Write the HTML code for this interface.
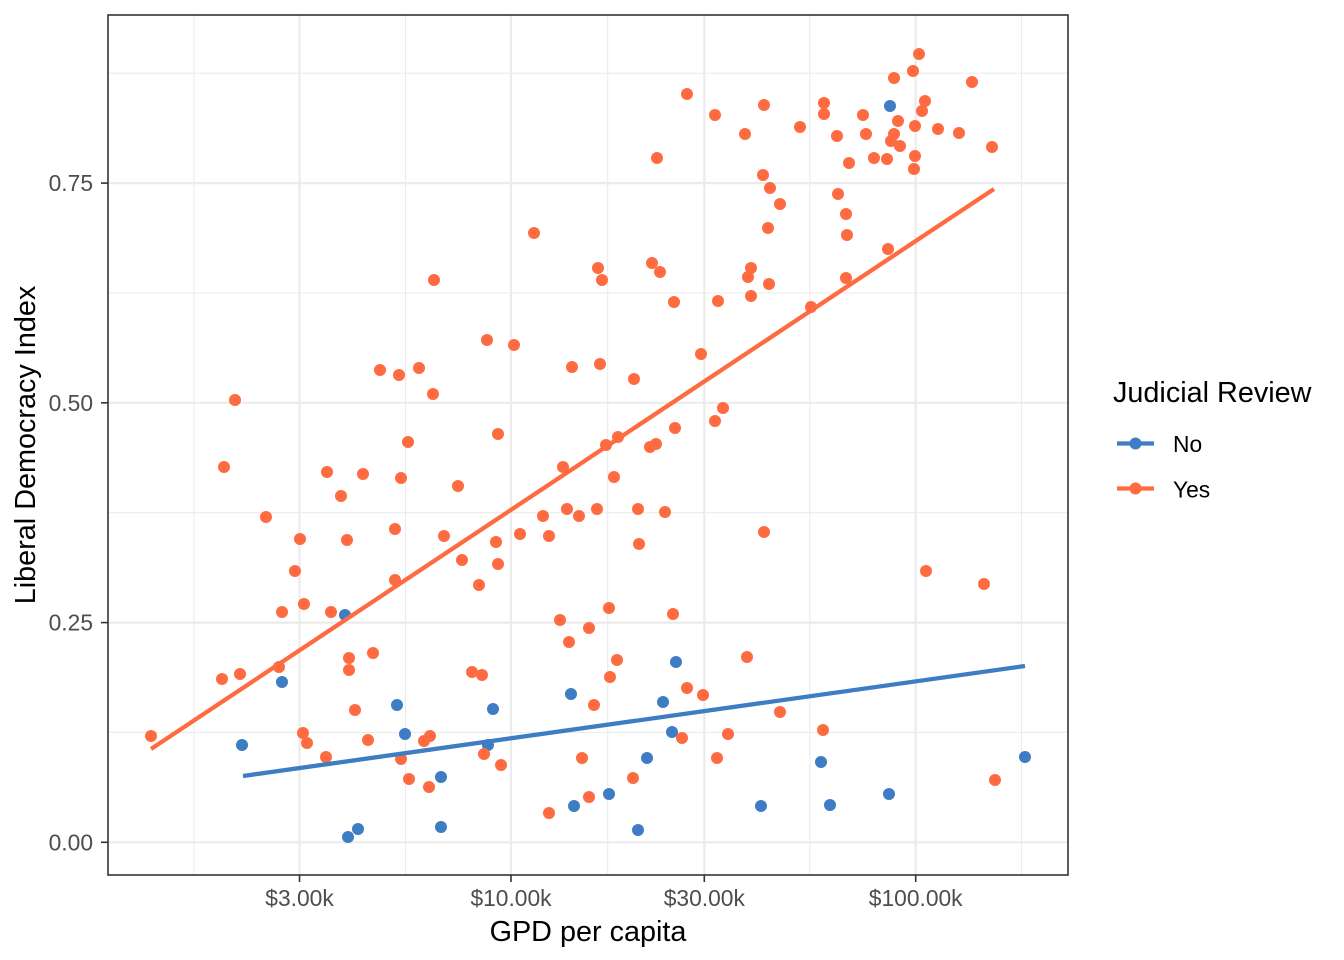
<!DOCTYPE html>
<html>
<head>
<meta charset="utf-8">
<style>
html,body{margin:0;padding:0;background:#fff;}
svg{display:block;}
text{font-family:"Liberation Sans",Arial,Helvetica,sans-serif;}
</style>
</head>
<body>
<svg width="1344" height="960" viewBox="0 0 1344 960" xmlns="http://www.w3.org/2000/svg">
<rect x="0" y="0" width="1344" height="960" fill="#ffffff"/>
<g stroke="#EBEBEB" stroke-width="1.1">
<line x1="108" x2="1068" y1="732.4" y2="732.4"/>
<line x1="108" x2="1068" y1="512.7" y2="512.7"/>
<line x1="108" x2="1068" y1="293" y2="293"/>
<line x1="108" x2="1068" y1="73.2" y2="73.2"/>
<line x1="194" x2="194" y1="15" y2="875"/>
<line x1="405.5" x2="405.5" y1="15" y2="875"/>
<line x1="607.7" x2="607.7" y1="15" y2="875"/>
<line x1="809.8" x2="809.8" y1="15" y2="875"/>
<line x1="1021.5" x2="1021.5" y1="15" y2="875"/>
</g>
<g stroke="#EBEBEB" stroke-width="2.2">
<line x1="108" x2="1068" y1="842.3" y2="842.3"/>
<line x1="108" x2="1068" y1="622.6" y2="622.6"/>
<line x1="108" x2="1068" y1="402.8" y2="402.8"/>
<line x1="108" x2="1068" y1="183.1" y2="183.1"/>
<line x1="299.5" x2="299.5" y1="15" y2="875"/>
<line x1="511" x2="511" y1="15" y2="875"/>
<line x1="704.3" x2="704.3" y1="15" y2="875"/>
<line x1="915.7" x2="915.7" y1="15" y2="875"/>
</g>
<g fill="#3E7CC4">
<circle cx="345" cy="615" r="6"/>
<circle cx="282" cy="682" r="6"/>
<circle cx="397" cy="705" r="6"/>
<circle cx="242" cy="745" r="6"/>
<circle cx="405" cy="734" r="6"/>
<circle cx="348" cy="837" r="6"/>
<circle cx="358" cy="829" r="6"/>
<circle cx="441" cy="777" r="6"/>
<circle cx="441" cy="827" r="6"/>
<circle cx="676" cy="662" r="6"/>
<circle cx="571" cy="694" r="6"/>
<circle cx="493" cy="709" r="6"/>
<circle cx="663" cy="702" r="6"/>
<circle cx="672" cy="732" r="6"/>
<circle cx="488" cy="745" r="6"/>
<circle cx="647" cy="758" r="6"/>
<circle cx="609" cy="794" r="6"/>
<circle cx="574" cy="806" r="6"/>
<circle cx="638" cy="830" r="6"/>
<circle cx="821" cy="762" r="6"/>
<circle cx="1025" cy="757" r="6"/>
<circle cx="761" cy="806" r="6"/>
<circle cx="830" cy="805" r="6"/>
<circle cx="889" cy="794" r="6"/>
<circle cx="890" cy="106" r="6"/>
</g>
<g fill="#FF6B40">
<circle cx="434" cy="280" r="6"/>
<circle cx="380" cy="370" r="6"/>
<circle cx="399" cy="375" r="6"/>
<circle cx="419" cy="368" r="6"/>
<circle cx="433" cy="394" r="6"/>
<circle cx="235" cy="400" r="6"/>
<circle cx="408" cy="442" r="6"/>
<circle cx="224" cy="467" r="6"/>
<circle cx="327" cy="472" r="6"/>
<circle cx="363" cy="474" r="6"/>
<circle cx="401" cy="478" r="6"/>
<circle cx="341" cy="496" r="6"/>
<circle cx="266" cy="517" r="6"/>
<circle cx="300" cy="539" r="6"/>
<circle cx="347" cy="540" r="6"/>
<circle cx="395" cy="529" r="6"/>
<circle cx="295" cy="571" r="6"/>
<circle cx="395" cy="580" r="6"/>
<circle cx="282" cy="612" r="6"/>
<circle cx="304" cy="604" r="6"/>
<circle cx="331" cy="612" r="6"/>
<circle cx="279" cy="667" r="6"/>
<circle cx="222" cy="679" r="6"/>
<circle cx="240" cy="674" r="6"/>
<circle cx="349" cy="658" r="6"/>
<circle cx="349" cy="670" r="6"/>
<circle cx="373" cy="653" r="6"/>
<circle cx="355" cy="710" r="6"/>
<circle cx="151" cy="736" r="6"/>
<circle cx="303" cy="733" r="6"/>
<circle cx="307" cy="743" r="6"/>
<circle cx="326" cy="757" r="6"/>
<circle cx="368" cy="740" r="6"/>
<circle cx="401" cy="759" r="6"/>
<circle cx="424" cy="741" r="6"/>
<circle cx="430" cy="736" r="6"/>
<circle cx="409" cy="779" r="6"/>
<circle cx="429" cy="787" r="6"/>
<circle cx="598" cy="268" r="6"/>
<circle cx="602" cy="280" r="6"/>
<circle cx="652" cy="263" r="6"/>
<circle cx="660" cy="272" r="6"/>
<circle cx="674" cy="302" r="6"/>
<circle cx="718" cy="301" r="6"/>
<circle cx="487" cy="340" r="6"/>
<circle cx="514" cy="345" r="6"/>
<circle cx="572" cy="367" r="6"/>
<circle cx="600" cy="364" r="6"/>
<circle cx="634" cy="379" r="6"/>
<circle cx="701" cy="354" r="6"/>
<circle cx="498" cy="434" r="6"/>
<circle cx="723" cy="408" r="6"/>
<circle cx="715" cy="421" r="6"/>
<circle cx="675" cy="428" r="6"/>
<circle cx="618" cy="437" r="6"/>
<circle cx="606" cy="445" r="6"/>
<circle cx="650" cy="447" r="6"/>
<circle cx="656" cy="444" r="6"/>
<circle cx="563" cy="467" r="6"/>
<circle cx="458" cy="486" r="6"/>
<circle cx="614" cy="477" r="6"/>
<circle cx="567" cy="509" r="6"/>
<circle cx="579" cy="516" r="6"/>
<circle cx="597" cy="509" r="6"/>
<circle cx="543" cy="516" r="6"/>
<circle cx="638" cy="509" r="6"/>
<circle cx="665" cy="512" r="6"/>
<circle cx="444" cy="536" r="6"/>
<circle cx="496" cy="542" r="6"/>
<circle cx="520" cy="534" r="6"/>
<circle cx="549" cy="536" r="6"/>
<circle cx="639" cy="544" r="6"/>
<circle cx="462" cy="560" r="6"/>
<circle cx="498" cy="564" r="6"/>
<circle cx="479" cy="585" r="6"/>
<circle cx="609" cy="608" r="6"/>
<circle cx="673" cy="614" r="6"/>
<circle cx="560" cy="620" r="6"/>
<circle cx="589" cy="628" r="6"/>
<circle cx="569" cy="642" r="6"/>
<circle cx="617" cy="660" r="6"/>
<circle cx="747" cy="657" r="6"/>
<circle cx="472" cy="672" r="6"/>
<circle cx="482" cy="675" r="6"/>
<circle cx="610" cy="677" r="6"/>
<circle cx="687" cy="688" r="6"/>
<circle cx="703" cy="695" r="6"/>
<circle cx="594" cy="705" r="6"/>
<circle cx="484" cy="754" r="6"/>
<circle cx="501" cy="765" r="6"/>
<circle cx="582" cy="758" r="6"/>
<circle cx="682" cy="738" r="6"/>
<circle cx="728" cy="734" r="6"/>
<circle cx="717" cy="758" r="6"/>
<circle cx="633" cy="778" r="6"/>
<circle cx="589" cy="797" r="6"/>
<circle cx="549" cy="813" r="6"/>
<circle cx="751" cy="268" r="6"/>
<circle cx="748" cy="277" r="6"/>
<circle cx="751" cy="296" r="6"/>
<circle cx="769" cy="284" r="6"/>
<circle cx="811" cy="307" r="6"/>
<circle cx="846" cy="278" r="6"/>
<circle cx="888" cy="249" r="6"/>
<circle cx="764" cy="532" r="6"/>
<circle cx="926" cy="571" r="6"/>
<circle cx="984" cy="584" r="6"/>
<circle cx="780" cy="712" r="6"/>
<circle cx="823" cy="730" r="6"/>
<circle cx="995" cy="780" r="6"/>
<circle cx="534" cy="233" r="6"/>
<circle cx="657" cy="158" r="6"/>
<circle cx="687" cy="94" r="6"/>
<circle cx="715" cy="115" r="6"/>
<circle cx="745" cy="134" r="6"/>
<circle cx="764" cy="105" r="6"/>
<circle cx="800" cy="127" r="6"/>
<circle cx="763" cy="175" r="6"/>
<circle cx="770" cy="188" r="6"/>
<circle cx="780" cy="204" r="6"/>
<circle cx="768" cy="228" r="6"/>
<circle cx="919" cy="54" r="6"/>
<circle cx="913" cy="71" r="6"/>
<circle cx="894" cy="78" r="6"/>
<circle cx="972" cy="82" r="6"/>
<circle cx="824" cy="103" r="6"/>
<circle cx="824" cy="114" r="6"/>
<circle cx="863" cy="115" r="6"/>
<circle cx="925" cy="101" r="6"/>
<circle cx="922" cy="111" r="6"/>
<circle cx="898" cy="121" r="6"/>
<circle cx="837" cy="136" r="6"/>
<circle cx="866" cy="134" r="6"/>
<circle cx="894" cy="134" r="6"/>
<circle cx="891" cy="141" r="6"/>
<circle cx="900" cy="146" r="6"/>
<circle cx="915" cy="126" r="6"/>
<circle cx="938" cy="129" r="6"/>
<circle cx="959" cy="133" r="6"/>
<circle cx="992" cy="147" r="6"/>
<circle cx="849" cy="163" r="6"/>
<circle cx="874" cy="158" r="6"/>
<circle cx="887" cy="159" r="6"/>
<circle cx="915" cy="156" r="6"/>
<circle cx="914" cy="169" r="6"/>
<circle cx="838" cy="194" r="6"/>
<circle cx="846" cy="214" r="6"/>
<circle cx="847" cy="235" r="6"/>
</g>
<line x1="243" y1="776" x2="1025" y2="666" stroke="#3E7CC4" stroke-width="4.3"/>
<line x1="151" y1="749" x2="994" y2="189" stroke="#FF6B40" stroke-width="4.3"/>
<rect x="108" y="15" width="960" height="860" fill="none" stroke="#333333" stroke-width="1.6"/>
<g stroke="#333333" stroke-width="1.6">
<line x1="101" x2="108" y1="842.3" y2="842.3"/>
<line x1="101" x2="108" y1="622.6" y2="622.6"/>
<line x1="101" x2="108" y1="402.8" y2="402.8"/>
<line x1="101" x2="108" y1="183.1" y2="183.1"/>
<line x1="299.5" x2="299.5" y1="875" y2="882"/>
<line x1="511" x2="511" y1="875" y2="882"/>
<line x1="704.3" x2="704.3" y1="875" y2="882"/>
<line x1="915.7" x2="915.7" y1="875" y2="882"/>
</g>
<g fill="#4D4D4D" font-size="22.8" text-anchor="end">
<text x="93" y="850.4">0.00</text>
<text x="93" y="630.7">0.25</text>
<text x="93" y="410.9">0.50</text>
<text x="93" y="191.2">0.75</text>
</g>
<g fill="#4D4D4D" font-size="22.8" text-anchor="middle">
<text x="299.5" y="906">$3.00k</text>
<text x="511" y="906">$10.00k</text>
<text x="704.3" y="906">$30.00k</text>
<text x="915.7" y="906">$100.00k</text>
</g>
<text x="588" y="941" font-size="28.8" text-anchor="middle" fill="#000000">GPD per capita</text>
<text transform="translate(35,445) rotate(-90)" x="0" y="0" font-size="28.8" text-anchor="middle" fill="#000000">Liberal Democracy Index</text>
<text x="1113" y="402" font-size="28.8" fill="#000000">Judicial Review</text>
<line x1="1117" x2="1154" y1="443.5" y2="443.5" stroke="#3E7CC4" stroke-width="4.3"/>
<circle cx="1135.5" cy="443.5" r="6" fill="#3E7CC4"/>
<line x1="1117" x2="1154" y1="488.5" y2="488.5" stroke="#FF6B40" stroke-width="4.3"/>
<circle cx="1135.5" cy="488.5" r="6" fill="#FF6B40"/>
<text x="1173" y="452" font-size="22.8" fill="#000000">No</text>
<text x="1173" y="497.5" font-size="22.8" fill="#000000">Yes</text>
</svg>
</body>
</html>
